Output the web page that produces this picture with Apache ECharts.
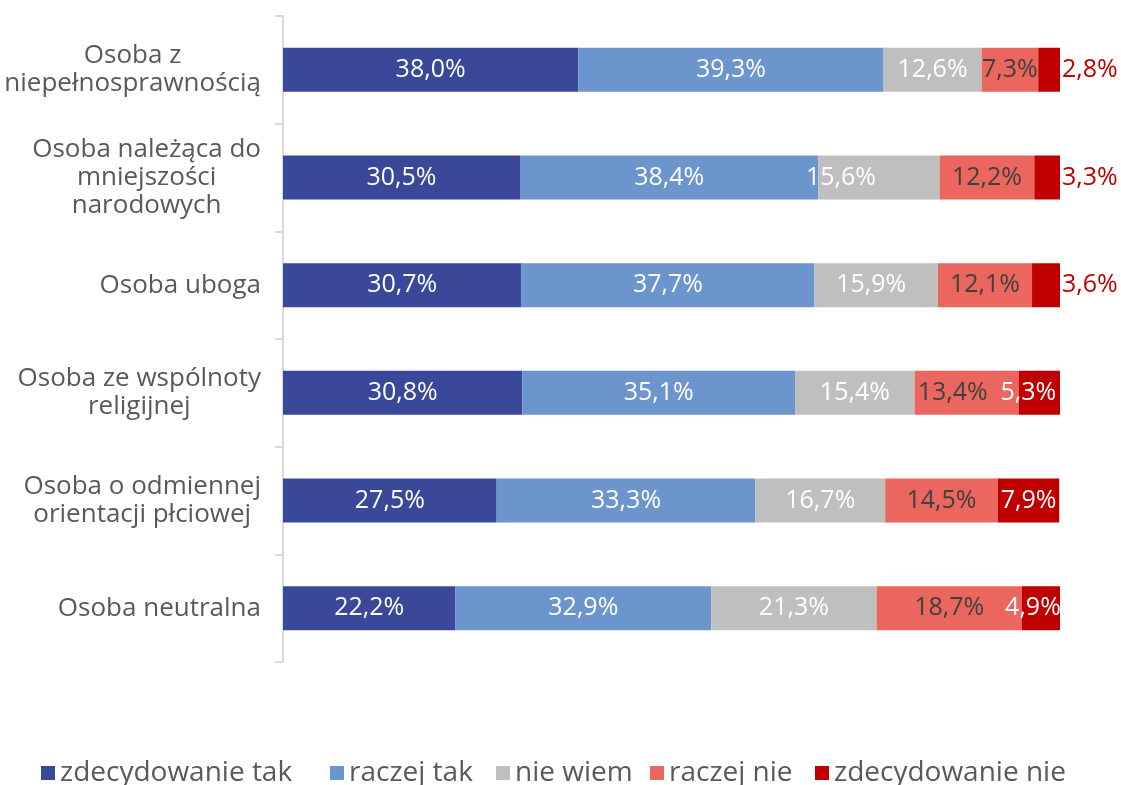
<!DOCTYPE html>
<html>
<head>
<meta charset="utf-8">
<script src="https://cdn.jsdelivr.net/npm/echarts@6/dist/echarts.min.js"></script>
<style>
html,body{margin:0;padding:0;background:#fff;}
#chart{width:1121px;height:785px;}
</style>
</head>
<body>
<div id="chart"></div>
<script>
var categories = [
  'Osoba z\nniepełnosprawnością',
  'Osoba należąca do\nmniejszości\nnarodowych',
  'Osoba uboga',
  'Osoba ze wspólnoty\nreligijnej',
  'Osoba o odmiennej\norientacji płciowej',
  'Osoba neutralna'
];
var seriesNames = ['zdecydowanie tak', 'raczej tak', 'nie wiem', 'raczej nie', 'zdecydowanie nie'];
var zdecydowanieTak = [38.0, 30.5, 30.7, 30.8, 27.5, 22.2];
var raczejTak       = [39.3, 38.4, 37.7, 35.1, 33.3, 32.9];
var nieWiem         = [12.6, 15.6, 15.9, 15.4, 16.7, 21.3];
var raczejNie       = [7.3, 12.2, 12.1, 13.4, 14.5, 18.7];
var zdecydowanieNie = [2.8, 3.3, 3.6, 5.3, 7.9, 4.9];

var colors = ['#3A4899', '#6C95CD', '#BFBFBF', '#EA665E', '#C00000'];
var labelColors = ['#FFFFFF', '#FFFFFF', '#FFFFFF', '#404040', '#FFFFFF'];
var FONT = "'Open Sans', sans-serif";

// manual label nudges seen in the reference (series index -> row -> dx)
var labelNudge = { 2: {1: -38, 2: -5}, 3: {3: -14}, 4: {3: -11, 5: -8} };
// rows whose last label sits outside the bar
var outsideRows = [0, 1, 2];

var allValues = [zdecydowanieTak, raczejTak, nieWiem, raczejNie, zdecydowanieNie];

function fmt(v) { return v.toFixed(1).replace('.', ',') + '%'; }

var series = allValues.map(function (vals, si) {
  return {
    name: seriesNames[si],
    type: 'bar',
    stack: 'total',
    barWidth: 44,
    itemStyle: { color: colors[si] },
    label: {
      show: true,
      position: 'inside',
      color: labelColors[si],
      fontFamily: FONT,
      fontSize: 25,
      formatter: function (p) { return fmt(p.value); }
    },
    data: vals.map(function (v, ri) {
      var item = { value: v };
      var lab = {};
      if (si === 4 && outsideRows.indexOf(ri) >= 0) {
        lab.position = 'right';
        lab.distance = 2;
        lab.color = '#C00000';
      }
      if (labelNudge[si] && labelNudge[si][ri] !== undefined) {
        lab.offset = [labelNudge[si][ri], 0];
      }
      item.label = lab;
      return item;
    })
  };
});

var legendLefts = [36, 325, 491, 645, 810];
var legends = seriesNames.map(function (n, i) {
  return {
    data: [n],
    left: legendLefts[i],
    top: 754,
    icon: 'rect',
    itemWidth: 14,
    itemHeight: 14,
    selectedMode: false,
    textStyle: { fontFamily: FONT, fontSize: 28, color: '#595959', padding: [0, 0, 0, 0] }
  };
});

var chart = echarts.init(document.getElementById('chart'), null, { renderer: 'canvas' });
chart.setOption({
  backgroundColor: '#FFFFFF',
  animation: false,
  color: colors,
  grid: { left: 283, right: 61, top: 16, bottom: 123, containLabel: false },
  legend: legends,
  xAxis: {
    type: 'value',
    min: 0,
    max: 100,
    show: false
  },
  yAxis: {
    type: 'category',
    inverse: true,
    data: categories,
    axisLine: { show: true, lineStyle: { color: '#D9D9D9', width: 2 } },
    axisTick: { show: true, length: 8, lineStyle: { color: '#D9D9D9', width: 2 } },
    axisLabel: {
      margin: 22,
      align: 'right',
      formatter: function (v) {
        return v.split('\n').map(function (l) { return '{c|' + l + '}'; }).join('\n');
      },
      rich: {
        c: { align: 'center', fontFamily: FONT, fontSize: 26, lineHeight: 28, color: '#595959' }
      }
    }
  },
  series: series
});
</script>
</body>
</html>
